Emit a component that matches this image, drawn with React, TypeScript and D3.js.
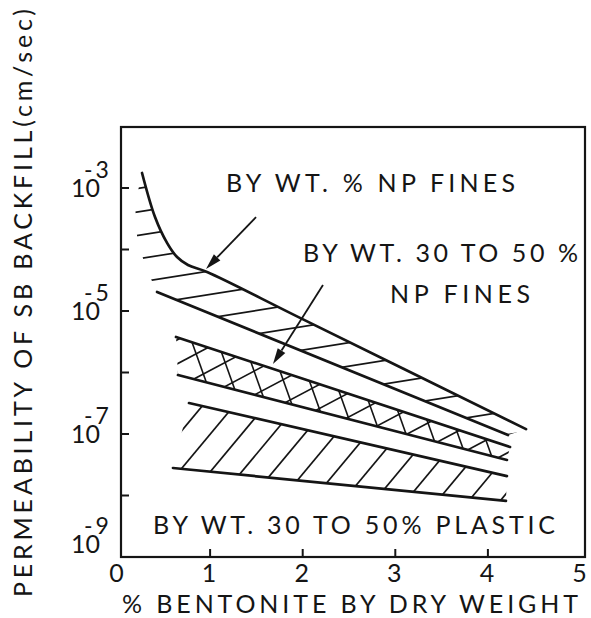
import React from "react";
import * as d3 from "d3";

// ---- data (x = % bentonite by dry weight, k = permeability cm/sec) ----
const xTicks = [0, 1, 2, 3, 4, 5];
const yTickExponents = [-3, -4, -5, -6, -7, -8];
const yLabelExponents = [-3, -5, -7, -9];

// Band 1: "% NP FINES" (single hatching)
const npUpperX = [0.265, 0.405, 0.535, 0.643, 0.761, 0.967, 1.971, 4.412];
const npUpperK = [1.754e-3, 3.37e-4, 1.28e-4, 7.55e-5, 5.6e-5, 4.31e-5, 7.74e-6, 1.2e-7];
const npLowerX = [0.427, 4.217];
const npLowerK = [2.04e-5, 9.64e-8];
const npOpenEdgeX = [0.297, 0.211, 0.189];
const npOpenEdgeK = [5.4e-5, 1.66e-4, 5.5e-4];

// Band 2: "30 TO 50 % NP FINES" (cross hatching)
const np3050UpperX = [0.632, 4.239];
const np3050UpperK = [3.78e-6, 6.15e-8];
const np3050LowerX = [0.653, 4.206];
const np3050LowerK = [9.1e-7, 3.78e-8];

// Band 3: "30 TO 50% PLASTIC" (diagonal hatching)
const plasticUpperX = [0.772, 4.206];
const plasticUpperK = [3.19e-7, 2.07e-8];
const plasticLowerX = [0.599, 4.195];
const plasticLowerK = [2.8e-8, 8.15e-9];

// Arrows (tail -> tip)
const arrowTailX = [1.496, 2.219];
const arrowTailK = [3.37e-4, 2.65e-5];
const arrowTipX = [0.956, 1.679];
const arrowTipK = [4.82e-5, 1.37e-6];

const annotationTexts = [
  "BY WT. % NP FINES",
  "BY WT. 30 TO 50 %",
  "NP FINES",
  "BY WT. 30 TO 50% PLASTIC",
];
const xTitle = "% BENTONITE BY DRY WEIGHT";
const yTitle = "PERMEABILITY OF SB BACKFILL(cm/sec)";

// ---- layout / style ----
const W = 591;
const H = 618;
const plot = { left: 121, right: 585, top: 127, bottom: 557 };
const INK = "#151515";
const FONT = "Lato, 'DejaVu Sans', sans-serif";
const FS = 25;

const annotationLayout = [
  { x: 226, y: 192, len: 289 },
  { x: 303, y: 262, len: 275 },
  { x: 390, y: 303, len: 140 },
  { x: 153, y: 534, len: 402 },
];

export default function App() {
  const x = d3.scaleLinear().domain([0, 5]).range([117.5, 580.5]);
  const y = d3.scaleLog().domain([1e-9, 1e-2]).range([557, 126.5]);

  const pts = (xs: number[], ks: number[]): [number, number][] =>
    xs.map((v, i) => [x(v), y(ks[i])] as [number, number]);

  const straight = d3.line();
  const curved = d3.line().curve(d3.curveCatmullRom.alpha(0.5));

  const npUpper = pts(npUpperX, npUpperK);
  const npLower = pts(npLowerX, npLowerK);
  const npEdge = pts(npOpenEdgeX, npOpenEdgeK);
  const b2U = pts(np3050UpperX, np3050UpperK);
  const b2L = pts(np3050LowerX, np3050LowerK);
  const b3U = pts(plasticUpperX, plasticUpperK);
  const b3L = pts(plasticLowerX, plasticLowerK);

  const Lto = (p: [number, number][]) => p.map((q) => `L${q[0]},${q[1]}`).join("");

  const clip1 =
    (curved(npUpper) as string) + Lto([...npLower].reverse()) + Lto(npEdge) + "Z";
  const clip2 = "M" + b2U[0].join(",") + Lto(b2U.slice(1)) + Lto([...b2L].reverse()) + "Z";
  const clip3 = "M" + b3U[0].join(",") + Lto(b3U.slice(1)) + Lto([...b3L].reverse()) + "Z";

  const hatch = (slope: number, spacing: number, phase: number) => {
    const x0 = plot.left - 10;
    const x1 = plot.right + 10;
    const corners = [
      [x0, plot.top],
      [x0, plot.bottom],
      [x1, plot.top],
      [x1, plot.bottom],
    ].map(([a, b]) => b - slope * a);
    const cmin = Math.min(...corners);
    const cmax = Math.max(...corners);
    const out: { x1: number; y1: number; x2: number; y2: number }[] = [];
    const n0 = Math.ceil((cmin - phase) / spacing);
    const n1 = Math.floor((cmax - phase) / spacing);
    for (let n = n0; n <= n1; n++) {
      const c = phase + n * spacing;
      out.push({ x1: x0, y1: slope * x0 + c, x2: x1, y2: slope * x1 + c });
    }
    return out;
  };

  const hatch1 = hatch(-0.16, 23.5, 234);
  const hatch2a = hatch(2.8, 72.5, -195.4);
  const hatch2b = hatch(-0.53, 24, 481.8);
  const hatch3 = hatch(-1.2, 37.7, 686.4);

  const arrows = arrowTailX.map((_, i) => {
    const tx = x(arrowTailX[i]);
    const ty = y(arrowTailK[i]);
    const hx = x(arrowTipX[i]);
    const hy = y(arrowTipK[i]);
    const dx = hx - tx;
    const dy = hy - ty;
    const L = Math.hypot(dx, dy);
    const ux = dx / L;
    const uy = dy / L;
    const bx = hx - ux * 16;
    const by = hy - uy * 16;
    const nx = -uy * 4.5;
    const ny = ux * 4.5;
    return {
      tx,
      ty,
      bx,
      by,
      head: `M${hx},${hy}L${bx + nx},${by + ny}L${bx - nx},${by - ny}Z`,
    };
  });

  const renderHatch = (lines: ReturnType<typeof hatch>, clip: string, w: number) => (
    <g clipPath={`url(#${clip})`} stroke={INK} strokeWidth={w}>
      {lines.map((l, i) => (
        <line key={i} x1={l.x1} y1={l.y1} x2={l.x2} y2={l.y2} />
      ))}
    </g>
  );

  return (
    <svg
      width={W}
      height={H}
      style={{ position: "absolute", left: 0, top: 0, background: "#fff" }}
      fontFamily={FONT}
    >
      <rect x={0} y={0} width={W} height={H} fill="#fff" />
      <defs>
        <clipPath id="c1">
          <path d={clip1} />
        </clipPath>
        <clipPath id="c2">
          <path d={clip2} />
        </clipPath>
        <clipPath id="c3">
          <path d={clip3} />
        </clipPath>
      </defs>

      {/* frame */}
      <rect
        x={plot.left}
        y={plot.top}
        width={plot.right - plot.left}
        height={plot.bottom - plot.top}
        fill="none"
        stroke={INK}
        strokeWidth={2.2}
      />

      {/* y ticks */}
      {yTickExponents.map((e) => (
        <line
          key={e}
          x1={plot.left}
          x2={plot.left + 8}
          y1={y(Math.pow(10, e))}
          y2={y(Math.pow(10, e))}
          stroke={INK}
          strokeWidth={2}
        />
      ))}
      {/* x ticks */}
      {xTicks.slice(1, -1).map((t) => (
        <line
          key={t}
          x1={x(t)}
          x2={x(t)}
          y1={plot.bottom}
          y2={plot.bottom - 8}
          stroke={INK}
          strokeWidth={2}
        />
      ))}

      {/* y tick labels: 10 with raised exponent, one text element each */}
      {yLabelExponents.map((e) => {
        const base = Math.min(y(Math.pow(10, e)) + 9, plot.bottom - 4);
        return (
          <text key={e} x={71} y={base} fontSize={FS} fill={INK}>
            10
            <tspan dx={-16} dy={-19} fontSize={23}>
              -
            </tspan>
            <tspan dx={3} fontSize={23}>
              {String(-e)}
            </tspan>
          </text>
        );
      })}

      {/* x tick labels */}
      {xTicks.map((t) => (
        <text key={t} x={x(t) - 1} y={582} textAnchor="middle" fontSize={FS} fill={INK}>
          {t}
        </text>
      ))}

      {/* hatching */}
      {renderHatch(hatch1, "c1", 1.7)}
      {renderHatch(hatch2a, "c2", 1.6)}
      {renderHatch(hatch2b, "c2", 1.6)}
      {renderHatch(hatch3, "c3", 1.7)}

      {/* band boundaries */}
      <g fill="none" stroke={INK} strokeWidth={2.7} strokeLinecap="round">
        <path d={curved(npUpper) as string} />
        <path d={straight(npLower) as string} />
        <path d={straight(b2U) as string} />
        <path d={straight(b2L) as string} />
        <path d={straight(b3U) as string} />
        <path d={straight(b3L) as string} />
      </g>

      {/* arrows */}
      {arrows.map((a, i) => (
        <g key={i}>
          <line x1={a.tx} y1={a.ty} x2={a.bx} y2={a.by} stroke={INK} strokeWidth={1.8} />
          <path d={a.head} fill={INK} />
        </g>
      ))}

      {/* annotations */}
      {annotationTexts.map((t, i) => (
        <text
          key={i}
          x={annotationLayout[i].x}
          y={annotationLayout[i].y}
          fontSize={FS}
          fill={INK}
          textLength={annotationLayout[i].len}
          lengthAdjust="spacing"
        >
          {t}
        </text>
      ))}

      {/* axis titles */}
      <text x={122} y={613} fontSize={FS} fill={INK} textLength={456} lengthAdjust="spacing">
        {xTitle}
      </text>
      <text
        transform="translate(32,303) rotate(-90)"
        textAnchor="middle"
        fontSize={FS}
        fill={INK}
        textLength={588}
        lengthAdjust="spacing"
      >
        {yTitle}
      </text>
    </svg>
  );
}
